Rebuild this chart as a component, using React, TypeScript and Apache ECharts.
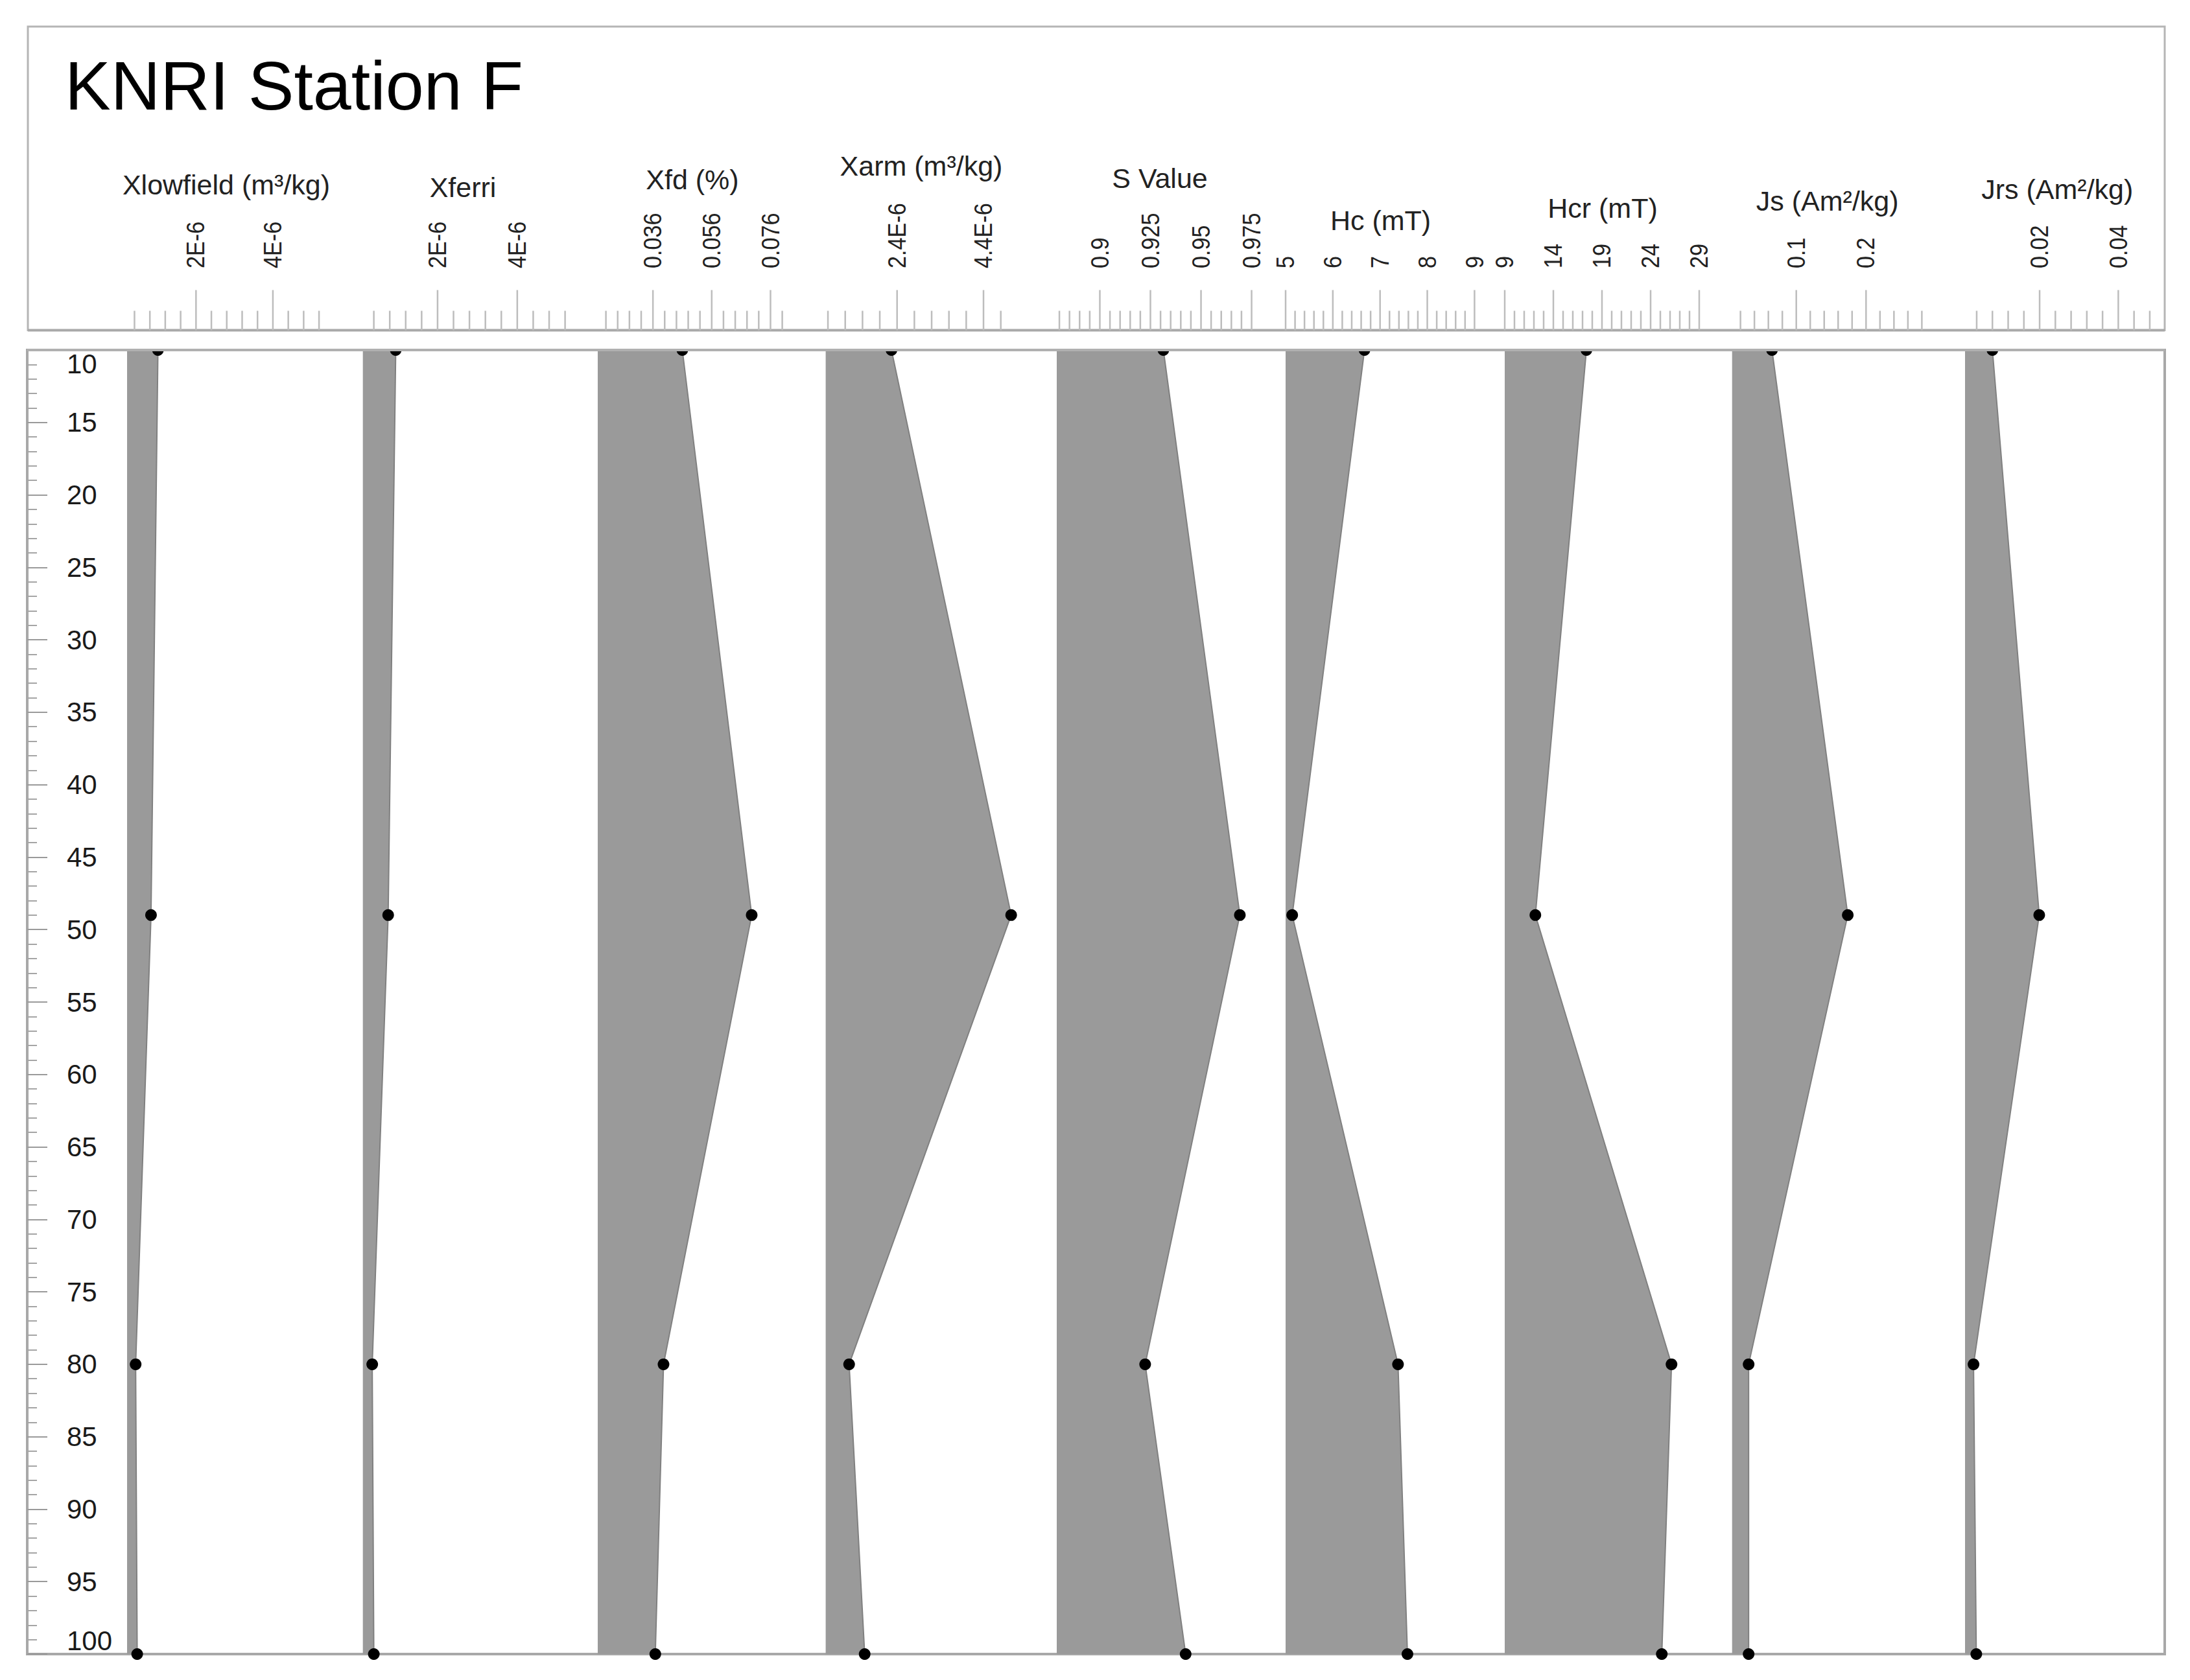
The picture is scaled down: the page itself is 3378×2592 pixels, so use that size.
import React, { useEffect, useRef } from 'react';
import * as echarts from 'echarts';

// ---------- data ----------
const depths = [10, 49, 80, 100];

const xlowfield = [1.01e-6, 0.83e-6, 0.43e-6, 0.47e-6];
const xferri = [0.95e-6, 0.76e-6, 0.36e-6, 0.40e-6];
const xfd = [0.0460, 0.0696, 0.0396, 0.0368];
const xarm = [2.27e-6, 5.04e-6, 1.29e-6, 1.65e-6];
const sValue = [0.9314, 0.9692, 0.9224, 0.9424];
const hc = [6.67, 5.14, 7.38, 7.58];
const hcr = [17.4, 12.15, 26.15, 25.15];
const js = [0.0652, 0.1738, 0.0317, 0.0317];
const jrs = [0.0080, 0.0199, 0.0032, 0.0039];

const panelNames = [
  'Xlowfield (m³/kg)',
  'Xferri',
  'Xfd (%)',
  'Xarm (m³/kg)',
  'S Value',
  'Hc (mT)',
  'Hcr (mT)',
  'Js (Am²/kg)',
  'Jrs (Am²/kg)',
];

// axis extents of each panel
const axisMin = [0.207e-6, 0.125e-6, 0.01722, 0.748e-6, 0.8787, 5, 9, 0.008, 0.00104];
const axisMax = [6.34e-6, 6.02e-6, 0.09478, 6.095e-6, 0.99181, 9.64, 32.38, 0.3419, 0.0518];

// header tick marks
const tickStart = [0.4e-6, 0.4e-6, 0.02, 0.8e-6, 0.88, 5, 9, 0.02, 0.004];
const tickStep = [0.4e-6, 0.4e-6, 0.004, 0.4e-6, 0.005, 0.2, 1, 0.02, 0.004];
const tickCount = [13, 13, 16, 11, 20, 21, 21, 14, 12];
const majorTicks = [
  [2e-6, 4e-6],
  [2e-6, 4e-6],
  [0.036, 0.056, 0.076],
  [2.4e-6, 4.4e-6],
  [0.9, 0.925, 0.95, 0.975],
  [5, 6, 7, 8, 9],
  [9, 14, 19, 24, 29],
  [0.1, 0.2],
  [0.02, 0.04],
];
const majorLabels = [
  ['2E-6', '4E-6'],
  ['2E-6', '4E-6'],
  ['0.036', '0.056', '0.076'],
  ['2.4E-6', '4.4E-6'],
  ['0.9', '0.925', '0.95', '0.975'],
  ['5', '6', '7', '8', '9'],
  ['9', '14', '19', '24', '29'],
  ['0.1', '0.2'],
  ['0.02', '0.04'],
];

const depthMin = 10;
const depthMax = 100;
const depthInterval = 5;

const title = 'KNRI Station F';

// ---------- layout ----------
const W = 3378;
const H = 2592;
const FONT = '"Liberation Sans", Arial, sans-serif';
const PLOT_TOP = 540;
const PLOT_BOTTOM = 2552;
const PLOT_LEFT = 42;
const PLOT_RIGHT = 3339;
const HEADER_LEFT = 43;
const HEADER_TOP = 41;
const HEADER_BASE = 509.5;
const TICK_LABEL_Y = 414;
const panelLeft = [196, 559.7, 922, 1273.6, 1630, 1983, 2321, 2671.7, 3031];
const nameX = [349, 714, 1068, 1421, 1789, 2129.5, 2472, 2818.7, 3173.3];
const nameY = [285, 289, 276.5, 256, 275, 339.7, 321, 310, 291.7];

const FILL = '#9a9a9a';

function buildOption() {
  const panelValues = [xlowfield, xferri, xfd, xarm, sValue, hc, hcr, js, jrs];
  const grids: any[] = [];
  const xAxes: any[] = [];
  const yAxes: any[] = [];
  const series: any[] = [];

  panelValues.forEach((vals, i) => {
    const left = panelLeft[i];
    const right = i < panelLeft.length - 1 ? panelLeft[i + 1] : PLOT_RIGHT;
    grids.push({ left, top: PLOT_TOP, width: right - left, height: PLOT_BOTTOM - PLOT_TOP });
    xAxes.push({ type: 'value', gridIndex: i, min: axisMin[i], max: axisMax[i], show: false });
    yAxes.push({ type: 'value', gridIndex: i, min: depthMin, max: depthMax, inverse: true, show: false });

    const pts = vals.map((v, k) => [v, depths[k]]);

    // shaded area from the panel's left edge to the curve
    series.push({
      type: 'custom',
      xAxisIndex: i,
      yAxisIndex: i,
      silent: true,
      z: 1,
      data: pts,
      renderItem: (params: any, api: any) => {
        if (params.dataIndex !== 0) return null;
        const poly: number[][] = [];
        poly.push(api.coord([axisMin[i], depths[0]]));
        for (let k = 0; k < vals.length; k++) poly.push(api.coord([vals[k], depths[k]]));
        poly.push(api.coord([axisMin[i], depths[depths.length - 1]]));
        return { type: 'polygon', shape: { points: poly }, style: { fill: FILL, stroke: null } };
      },
    });

    // curve + points
    series.push({
      type: 'line',
      xAxisIndex: i,
      yAxisIndex: i,
      data: pts,
      clip: false,
      z: 3,
      symbol: 'circle',
      symbolSize: 18,
      itemStyle: { color: '#000' },
      lineStyle: { color: '#808080', width: 2 },
      silent: true,
    });

    // header ticks
    const tickData: number[][] = [];
    for (let k = 0; k < tickCount[i]; k++) {
      const v = tickStart[i] + k * tickStep[i];
      const mi = majorTicks[i].findIndex((m) => Math.abs(m - v) < tickStep[i] * 0.1);
      tickData.push([v, mi >= 0 ? 1 : 0, mi]);
    }
    series.push({
      type: 'custom',
      xAxisIndex: i,
      yAxisIndex: i,
      silent: true,
      z: 5,
      data: tickData,
      renderItem: (params: any, api: any) => {
        const v = api.value(0);
        const x = api.coord([v, depthMin])[0];
        const major = api.value(1) === 1;
        const li = api.value(2);
        const children: any[] = [
          {
            type: 'line',
            shape: { x1: x, y1: HEADER_BASE, x2: x, y2: HEADER_BASE - (major ? 62 : 30) },
            style: { stroke: '#bdbdbd', lineWidth: 2.5 },
          },
        ];
        if (major) {
          children.push({
            type: 'text',
            x,
            y: TICK_LABEL_Y,
            rotation: Math.PI / 2,
            scaleX: 0.9,
            style: {
              text: majorLabels[i][li],
              fontSize: 38,
              fontFamily: FONT,
              fill: '#222',
              align: 'left',
              verticalAlign: 'middle',
              textAlign: 'left',
              textVerticalAlign: 'middle',
            },
          });
        }
        return { type: 'group', children };
      },
    });
  });

  // depth axis
  const di = grids.length;
  grids.push({ left: PLOT_LEFT, top: PLOT_TOP, width: PLOT_RIGHT - PLOT_LEFT, height: PLOT_BOTTOM - PLOT_TOP });
  xAxes.push({ type: 'value', gridIndex: di, min: 0, max: 1, show: false });
  yAxes.push({
    type: 'value',
    gridIndex: di,
    position: 'left',
    min: depthMin,
    max: depthMax,
    interval: depthInterval,
    inverse: true,
    axisLine: { show: false },
    splitLine: { show: false },
    axisTick: { show: true, inside: true, length: 31, lineStyle: { color: '#9a9a9a', width: 2 } },
    minorTick: { show: true, splitNumber: 5, length: 15, lineStyle: { color: '#a5a5a5', width: 2 } },
    axisLabel: {
      inside: true,
      margin: 61,
      fontSize: 42,
      fontFamily: FONT,
      color: '#1a1a1a',
      showMinLabel: true,
      showMaxLabel: true,
      verticalAlignMinLabel: 'top',
      verticalAlignMaxLabel: 'bottom',
    },
  });

  const graphics: any[] = [
    {
      type: 'rect',
      z: 0,
      shape: { x: HEADER_LEFT, y: HEADER_TOP, width: PLOT_RIGHT - HEADER_LEFT, height: HEADER_BASE - HEADER_TOP },
      style: { fill: 'none', stroke: '#b5b5b5', lineWidth: 3 },
    },
    {
      type: 'line',
      z: 0,
      shape: { x1: HEADER_LEFT, y1: HEADER_BASE, x2: PLOT_RIGHT, y2: HEADER_BASE },
      style: { stroke: '#a9a9a9', lineWidth: 4 },
    },
    {
      type: 'rect',
      z: 0,
      shape: { x: PLOT_LEFT, y: PLOT_TOP, width: PLOT_RIGHT - PLOT_LEFT, height: PLOT_BOTTOM - PLOT_TOP },
      style: { fill: 'none', stroke: '#a8a8a8', lineWidth: 4 },
    },
    {
      type: 'rect',
      z: 90,
      shape: { x: 180, y: HEADER_BASE + 3, width: PLOT_RIGHT - 178, height: PLOT_TOP - HEADER_BASE - 5 },
      style: { fill: '#ffffff', stroke: null },
    },
    {
      type: 'line',
      z: 91,
      shape: { x1: PLOT_LEFT, y1: PLOT_TOP, x2: PLOT_RIGHT, y2: PLOT_TOP },
      style: { stroke: '#b0b0b0', lineWidth: 4 },
    },
    {
      type: 'text',
      z: 95,
      x: 100,
      y: 131.7,
      style: {
        text: title,
        fontSize: 106,
        fontFamily: FONT,
        fill: '#000',
        align: 'left',
        verticalAlign: 'middle',
        textAlign: 'left',
        textVerticalAlign: 'middle',
      },
    },
  ];
  panelNames.forEach((n, i) => {
    graphics.push({
      type: 'text',
      z: 95,
      x: nameX[i],
      y: nameY[i],
      style: {
        text: n,
        fontSize: 43,
        fontFamily: FONT,
        fill: '#222',
        align: 'center',
        verticalAlign: 'middle',
        textAlign: 'center',
        textVerticalAlign: 'middle',
      },
    });
  });

  return {
    animation: false,
    backgroundColor: '#ffffff',
    grid: grids,
    xAxis: xAxes,
    yAxis: yAxes,
    series,
    graphic: { elements: graphics },
  };
}

export default function App() {
  const ref = useRef<HTMLDivElement>(null);
  useEffect(() => {
    if (!ref.current) return;
    const chart = echarts.init(ref.current, null, { renderer: 'svg' });
    chart.setOption(buildOption() as any);
    return () => chart.dispose();
  }, []);
  return (
    <div
      ref={ref}
      style={{ position: 'fixed', left: 0, top: 0, width: W, height: H, background: '#fff' }}
    />
  );
}
